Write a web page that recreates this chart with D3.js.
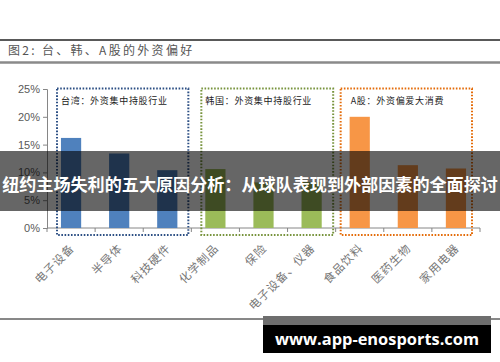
<!DOCTYPE html>
<html>
<head>
<meta charset="utf-8">
<script src="https://cdn.jsdelivr.net/npm/d3@7"></script>
<style>
  body { margin: 0; background: #fff; }
  svg { display: block; }
</style>
</head>
<body>
<svg id="chart" width="500" height="362"></svg>
<script>
// data
const categories = ['电子设备', '半导体', '科技硬件', '化学制品', '保险', '电子设备、仪器', '食品饮料', '医药生物', '家用电器'];
const shares = [0.162, 0.134, 0.104, 0.106, 0.082, 0.083, 0.200, 0.113, 0.107];
const groupOf = [0, 0, 0, 1, 1, 1, 2, 2, 2];
const groupNames = ['台湾：外资集中持股行业', '韩国：外资集中持股行业', 'A股：外资偏爱大消费'];
const yTicks = [0, 0.05, 0.10, 0.15, 0.20, 0.25];
const titleText = '图2:  台、韩、A股的外资偏好';
const overlayText = '纽约主场失利的五大原因分析：从球队表现到外部因素的全面探讨';
const siteText = 'www.app-enosports.com';

const barColors = ['#4f81bd', '#9bbb59', '#f79646'];
const boxColors = ['#2c4f84', '#77933c', '#e46c0a'];

const svg = d3.select('#chart');

// header lines + title
svg.append('line').attr('x1', 0).attr('x2', 500).attr('y1', 40).attr('y2', 40)
    .attr('stroke', '#222').attr('stroke-width', 1.5);
svg.append('line').attr('x1', 0).attr('x2', 500).attr('y1', 62.5).attr('y2', 62.5)
    .attr('stroke', '#8a8a8a').attr('stroke-width', 2.5);
svg.append('text').text(titleText)
    .attr('x', 8).attr('y', 55)
    .attr('font-family', 'Noto Sans CJK SC')
    .attr('font-size', 12).attr('letter-spacing', 2.3).attr('fill', '#555');

const x = d3.scaleBand().domain(categories).range([47, 480]).padding(0);
const y = d3.scaleLinear().domain([0, 0.25]).range([228, 89]);

// axes
const yAxis = svg.append('g').attr('transform', 'translate(47,0)')
    .call(d3.axisLeft(y).tickValues(yTicks).tickSize(4).tickFormat(d3.format('.0%')));
yAxis.select('.domain').attr('stroke', '#868686');
yAxis.selectAll('.tick line').attr('stroke', '#868686');
yAxis.selectAll('.tick text').attr('font-family', 'Liberation Sans, Arial').attr('font-size', 11)
    .attr('fill', '#595959').attr('x', -7);

const bounds = categories.map(c => x(c)).concat([x.range()[1]]);
const xAxis = svg.append('g');
xAxis.append('line').attr('x1', 47).attr('x2', 480).attr('y1', 228).attr('y2', 228)
    .attr('stroke', '#868686');
xAxis.selectAll('line.tk').data(bounds).enter().append('line').attr('class', 'tk')
    .attr('x1', d => d).attr('x2', d => d).attr('y1', 228).attr('y2', 232)
    .attr('stroke', '#868686');

// bars
const bw = x.bandwidth() * 0.42;
svg.selectAll('rect.bar').data(categories).enter().append('rect').attr('class', 'bar')
    .attr('x', d => x(d) + (x.bandwidth() - bw) / 2)
    .attr('width', bw)
    .attr('y', (d, i) => y(shares[i]))
    .attr('height', (d, i) => y(0) - y(shares[i]))
    .attr('fill', (d, i) => barColors[groupOf[i]]);

// dotted group boxes
const padL = [10, 10, 5], padR = [3, 2.5, 8];
groupNames.forEach((name, g) => {
    const idx = categories.filter((c, i) => groupOf[i] === g);
    const x0 = x(idx[0]) + padL[g];
    const x1 = x(idx[idx.length - 1]) + x.bandwidth() - padR[g];
    svg.append('rect')
        .attr('x', x0).attr('y', 88.5).attr('width', x1 - x0).attr('height', 146.5)
        .attr('fill', 'none').attr('stroke', boxColors[g]).attr('stroke-width', 2)
        .attr('stroke-dasharray', '1.6,1.6');
    svg.append('text').text(name)
        .attr('x', x0 + 4 + (g === 2 ? 6 : 0)).attr('y', 103.5)
        .attr('font-family', 'Noto Sans CJK SC')
        .attr('font-size', 9).attr('letter-spacing', 0.7).attr('fill', '#222');
});

// rotated category labels
svg.selectAll('text.cat').data(categories).enter().append('text').attr('class', 'cat')
    .text(d => d)
    .attr('text-anchor', 'end')
    .attr('transform', d => `translate(${x(d) + x.bandwidth() / 2 + 4},${249}) rotate(-45)`)
    .attr('font-family', 'Noto Sans CJK SC')
    .attr('font-size', 11.5).attr('letter-spacing', 1).attr('fill', '#777');

// bottom rule
svg.append('line').attr('x1', 0).attr('x2', 500).attr('y1', 319).attr('y2', 319)
    .attr('stroke', '#111').attr('stroke-width', 1);

// overlay banner
svg.append('rect').attr('x', 0).attr('y', 151).attr('width', 500).attr('height', 60)
    .attr('fill', 'rgba(0,0,0,0.6)');
svg.append('text').text(overlayText)
    .attr('x', 250).attr('y', 190.5).attr('text-anchor', 'middle')
    .attr('font-family', 'Noto Sans CJK SC').attr('font-weight', 'bold')
    .attr('font-size', 17.1).attr('fill', '#fff');

// site badge
svg.append('rect').attr('x', 263).attr('y', 316).attr('width', 228).attr('height', 9)
    .attr('fill', '#6e6e6e');
svg.append('rect').attr('x', 263).attr('y', 325).attr('width', 228).attr('height', 28)
    .attr('fill', '#000');
svg.append('text').text(siteText)
    .attr('x', 377).attr('y', 345).attr('text-anchor', 'middle')
    .attr('font-family', 'Open Sans, DejaVu Sans').attr('font-weight', 'bold')
    .attr('font-size', 16.4).attr('fill', '#fff');
</script>
</body>
</html>
